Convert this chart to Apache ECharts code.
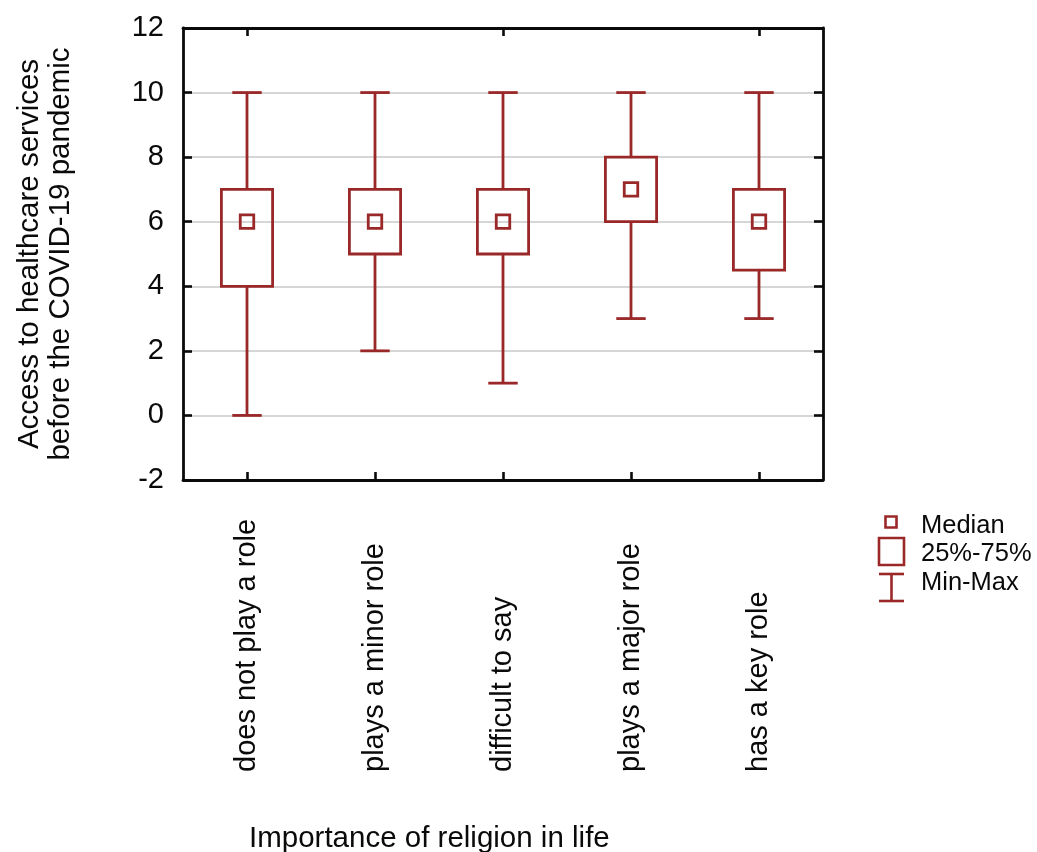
<!DOCTYPE html>
<html><head><meta charset="utf-8">
<script src="https://cdn.jsdelivr.net/npm/echarts@6/dist/echarts.min.js"></script>
<style>html,body{margin:0;padding:0;background:#fff}#c{width:1037px;height:852px}</style>
</head><body><div id="c"></div>
<script>
const categories = ['does not play a role', 'plays a minor role', 'difficult to say', 'plays a major role', 'has a key role'];
const minValues = [0, 2, 1, 3, 3];
const q1Values = [4, 5, 5, 6, 4.5];
const medianValues = [6, 6, 6, 7, 6];
const q3Values = [7, 7, 7, 8, 7];
const maxValues = [10, 10, 10, 10, 10];
const yMin = -2, yMax = 12, yStep = 2;
const legendLabels = ['Median', '25%-75%', 'Min-Max'];
const yTitle = 'Access to healthcare services\nbefore the COVID-19 pandemic';
const xTitle = 'Importance of religion in life';

const RED = '#9a2828';
const INK = '#0a0a0a';
const FONT = "'Liberation Sans', Arial, Helvetica, sans-serif";

const boxData = categories.map((c, i) => [i, minValues[i], q1Values[i], medianValues[i], q3Values[i], maxValues[i]]);

function renderItem(params, api) {
  const i = api.value(0);
  const pMin = api.coord([i, api.value(1)]);
  const pQ1 = api.coord([i, api.value(2)]);
  const pMed = api.coord([i, api.value(3)]);
  const pQ3 = api.coord([i, api.value(4)]);
  const pMax = api.coord([i, api.value(5)]);
  const band = api.size([1, 0])[0];
  const bw = band * 0.4, cw = band * 0.23, ms = 13.5;
  const x = pMed[0];
  const style = { stroke: RED, lineWidth: 2.8, fill: 'none' };
  return {
    type: 'group', children: [
      { type: 'line', shape: { x1: x, y1: pMax[1], x2: x, y2: pQ3[1] }, style },
      { type: 'line', shape: { x1: x - cw / 2, y1: pMax[1], x2: x + cw / 2, y2: pMax[1] }, style },
      { type: 'line', shape: { x1: x, y1: pQ1[1], x2: x, y2: pMin[1] }, style },
      { type: 'line', shape: { x1: x - cw / 2, y1: pMin[1], x2: x + cw / 2, y2: pMin[1] }, style },
      { type: 'rect', shape: { x: x - bw / 2, y: pQ3[1], width: bw, height: pQ1[1] - pQ3[1] }, style },
      { type: 'rect', shape: { x: x - ms / 2, y: pMed[1] - ms / 2, width: ms, height: ms }, style }
    ]
  };
}

const chart = echarts.init(document.getElementById('c'), null, { renderer: 'canvas' });
const frameLine = { show: true, onZero: false, lineStyle: { color: INK, width: 2.8 } };
const lStyle = { stroke: RED, lineWidth: 2.6, fill: 'none' };

chart.setOption({
  animation: false,
  backgroundColor: '#fff',
  textStyle: { fontFamily: FONT },
  title: {
    text: xTitle, left: 244, top: 819,
    textStyle: { fontSize: 29.5, fontWeight: 'normal', color: INK, fontFamily: FONT }
  },
  grid: { left: 183, right: 214, top: 28, bottom: 372, outerBoundsMode: 'none' },
  xAxis: [{
    type: 'category', data: categories, position: 'bottom',
    axisLine: frameLine,
    axisTick: { show: true, inside: true, alignWithLabel: true, length: 8, lineStyle: { color: INK, width: 2.6 } },
    axisLabel: { rotate: 90, align: 'left', margin: 292, fontSize: 29, color: INK, fontFamily: FONT, interval: 0 },
    splitLine: { show: false }
  }, {
    type: 'category', data: categories, position: 'top',
    axisLine: frameLine,
    axisTick: { show: true, inside: true, alignWithLabel: true, length: 8, lineStyle: { color: INK, width: 2.6 } },
    axisLabel: { show: false }, splitLine: { show: false }
  }],
  yAxis: [{
    type: 'value', min: yMin, max: yMax, interval: yStep, position: 'left',
    name: yTitle, nameLocation: 'middle', nameGap: 107,
    nameTextStyle: { fontSize: 29.5, color: INK, lineHeight: 31, fontFamily: FONT },
    axisLine: frameLine,
    axisTick: { show: true, inside: true, length: 9, lineStyle: { color: INK, width: 2.6 } },
    axisLabel: { fontSize: 29, color: INK, margin: 19, fontFamily: FONT },
    splitLine: { show: true, lineStyle: { color: '#d6d6d6', width: 2 } }
  }, {
    type: 'value', min: yMin, max: yMax, interval: yStep, position: 'right',
    axisLine: frameLine,
    axisTick: { show: true, inside: true, length: 9, lineStyle: { color: INK, width: 2.6 } },
    axisLabel: { show: false }, splitLine: { show: false }
  }],
  series: [{
    type: 'custom', renderItem, data: boxData,
    encode: { x: 0, y: [1, 2, 3, 4, 5] }, xAxisIndex: 0, yAxisIndex: 0, z: 5
  }],
  graphic: [
    { type: 'rect', shape: { x: 885.5, y: 516.5, width: 11, height: 11 }, style: lStyle },
    { type: 'rect', shape: { x: 879, y: 538, width: 25, height: 27 }, style: lStyle },
    { type: 'line', shape: { x1: 879, y1: 574, x2: 904, y2: 574 }, style: lStyle },
    { type: 'line', shape: { x1: 891.5, y1: 574, x2: 891.5, y2: 601 }, style: lStyle },
    { type: 'line', shape: { x1: 879, y1: 601, x2: 904, y2: 601 }, style: lStyle },
    { type: 'text', x: 921, y: 526, style: { text: legendLabels[0], font: '25.5px ' + FONT, fill: INK, verticalAlign: 'middle' } },
    { type: 'text', x: 921, y: 554, style: { text: legendLabels[1], font: '25.5px ' + FONT, fill: INK, verticalAlign: 'middle' } },
    { type: 'text', x: 921, y: 583, style: { text: legendLabels[2], font: '25.5px ' + FONT, fill: INK, verticalAlign: 'middle' } }
  ]
});
</script></body></html>
